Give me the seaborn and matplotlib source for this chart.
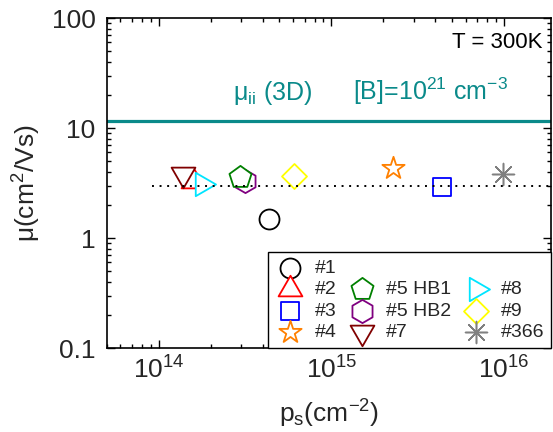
import numpy as np
import pandas as pd
import matplotlib
matplotlib.use("Agg")
import matplotlib.pyplot as plt
import seaborn as sns
from matplotlib.lines import Line2D
from matplotlib.path import Path
from matplotlib.ticker import FixedLocator, LogLocator, NullFormatter

# ---------------- data ----------------
samples = ["#1", "#2", "#3", "#4", "#5 HB1", "#5 HB2", "#7", "#8", "#9", "#366"]
ps_cm2 = [4.35e14, 1.59e14, 4.38e15, 2.29e15, 2.96e14, 3.18e14, 1.39e14, 1.79e14, 6.07e14, 9.9e15]
mobility = [1.49, 3.28, 2.89, 4.35, 3.61, 3.30, 3.81, 3.08, 3.67, 3.84]
colors = ["#000000", "#ff0000", "#0000ff", "#ff8000", "#008000",
          "#800080", "#800000", "#00e5ff", "#ffff00", "#808080"]
mu_ii_3d = 11.6
mu_mean = 3.0
mean_line_start = 9.2e13
ytick_values = [0.1, 1, 10, 100]
ytick_labels = ["0.1", "1", "10", "100"]

# ---------------- style ----------------
sns.set_style("ticks")
plt.rcParams["font.family"] = ["Liberation Sans", "DejaVu Sans"]
plt.rcParams["mathtext.fontset"] = "custom"
plt.rcParams["mathtext.rm"] = "Liberation Sans"
plt.rcParams["mathtext.it"] = "Liberation Sans:italic"
plt.rcParams["mathtext.bf"] = "Liberation Sans:bold"

PX = 0.72  # points per pixel at dpi 100


def closed(verts):
    v = list(verts) + [verts[0]]
    return Path(v, closed=True)


tri_up = closed([(0, 1), (-0.866, -0.5), (0.866, -0.5)])
tri_down = closed([(0, -1), (-0.866, 0.5), (0.866, 0.5)])
tri_right = closed([(1, 0), (-0.5, 0.866), (-0.5, -0.866)])
diamond = closed([(0, 1), (1, 0), (0, -1), (-1, 0)])

markers = {"#1": "o", "#2": tri_up, "#3": "s", "#4": "*", "#5 HB1": "p",
           "#5 HB2": "h", "#7": tri_down, "#8": tri_right, "#9": diamond,
           "#366": (8, 2, 0)}
size_px = {"#1": 20, "#2": 27.5, "#3": 18, "#4": 23.4, "#5 HB1": 23.2,
           "#5 HB2": 23.2, "#7": 27.5, "#8": 27.0, "#9": 25, "#366": 22}

df = pd.DataFrame({"sample": samples, "ps": ps_cm2, "mu": mobility, "color": colors})

fig = plt.figure(figsize=(5.53, 4.32), dpi=100)
ax = fig.add_axes([106.5 / 553, 84 / 432, 444.5 / 553, 330 / 432])

draw_order = ["#1", "#2", "#3", "#4", "#5 HB2", "#5 HB1", "#7", "#8", "#9", "#366"]
for name in draw_order:
    row = df[df["sample"] == name]
    c = row["color"].iloc[0]
    if name == "#366":
        sns.scatterplot(data=row, x="ps", y="mu", ax=ax, marker=markers[name],
                        s=(size_px[name] * PX) ** 2, color=c,
                        linewidth=1.1, label=name, zorder=3, legend=False)
    else:
        sns.scatterplot(data=row, x="ps", y="mu", ax=ax, marker=markers[name],
                        s=(size_px[name] * PX) ** 2, color=c, facecolor="white",
                        edgecolor=c, linewidth=1.3, label=name, zorder=3,
                        legend=False)

ax.set_xscale("log")
ax.set_yscale("log")
ax.set_xlim(5e13, 1.87e16)
ax.set_ylim(0.1, 100)

# reference lines
ax.axhline(mu_ii_3d, color="#0a8a8a", lw=2.3, zorder=2)
ax.hlines(mu_mean, mean_line_start, 1.87e16, colors="black", lw=1.4,
          linestyles=(0, (1.0, 2.9)), zorder=5)

# ticks
ax.yaxis.set_major_locator(FixedLocator(ytick_values))
ax.set_yticklabels(ytick_labels)
ax.yaxis.set_minor_locator(LogLocator(base=10, subs=np.arange(2, 10)))
ax.yaxis.set_minor_formatter(NullFormatter())
ax.xaxis.set_major_locator(LogLocator(base=10, numticks=10))
ax.xaxis.set_minor_locator(LogLocator(base=10, subs=np.arange(2, 10), numticks=20))
ax.xaxis.set_minor_formatter(NullFormatter())
ax.tick_params(which="both", direction="in", top=True, right=True, width=1.0,
               color="black")
ax.tick_params(which="major", length=5.8, labelsize=19)
ax.tick_params(which="minor", length=2.9)
ax.tick_params(axis="x", which="major", pad=6)
ax.tick_params(axis="y", which="major", pad=8)
for sp in ax.spines.values():
    sp.set_linewidth(1.2)
    sp.set_color("black")

ax.set_xlabel("p$_\\mathrm{s}$(cm$^{-2}$)", fontsize=19)
ax.set_ylabel("\u03bc(cm$^{2}$/Vs)", fontsize=19)
ax.yaxis.set_label_coords(-0.142, 0.5)
ax.xaxis.set_label_coords(0.5, -0.15)

# annotations
ax.text(0.98, 0.909, "T = 300K", transform=ax.transAxes, ha="right",
        va="baseline", fontsize=16, color="black")
ax.text(0.2846, 0.7515, "\u03bc$_{\\mathrm{ii}}$ (3D)", transform=ax.transAxes,
        ha="left", va="baseline", fontsize=18, color="#0a8a8a")
ax.text(0.5545, 0.7515, "[B]=10$^{21}$ cm$^{-3}$", transform=ax.transAxes,
        ha="left", va="baseline", fontsize=18, color="#0a8a8a")

# legend (3 columns, columns 2 and 3 start one row lower)
h, l = ax.get_legend_handles_labels()
hd = dict(zip(l, h))
blank = Line2D([], [], linestyle="none")
order = ["#1", "#2", "#3", "#4", None, "#5 HB1", "#5 HB2", "#7",
         None, "#8", "#9", "#366"]
handles = [hd[o] if o else blank for o in order]
labels = [o if o else "" for o in order]
leg = ax.legend(handles, labels, ncol=3, loc="lower right",
                bbox_to_anchor=(1, 0), borderaxespad=0, fontsize=14,
                frameon=True, fancybox=False, framealpha=1, edgecolor="black",
                labelspacing=0.2, borderpad=0.35, handlelength=1.6,
                handletextpad=0.45, columnspacing=0.5, scatterpoints=1)
leg.get_frame().set_linewidth(1.0)
leg.set_zorder(10)

fig.savefig("out.png", dpi=100)
